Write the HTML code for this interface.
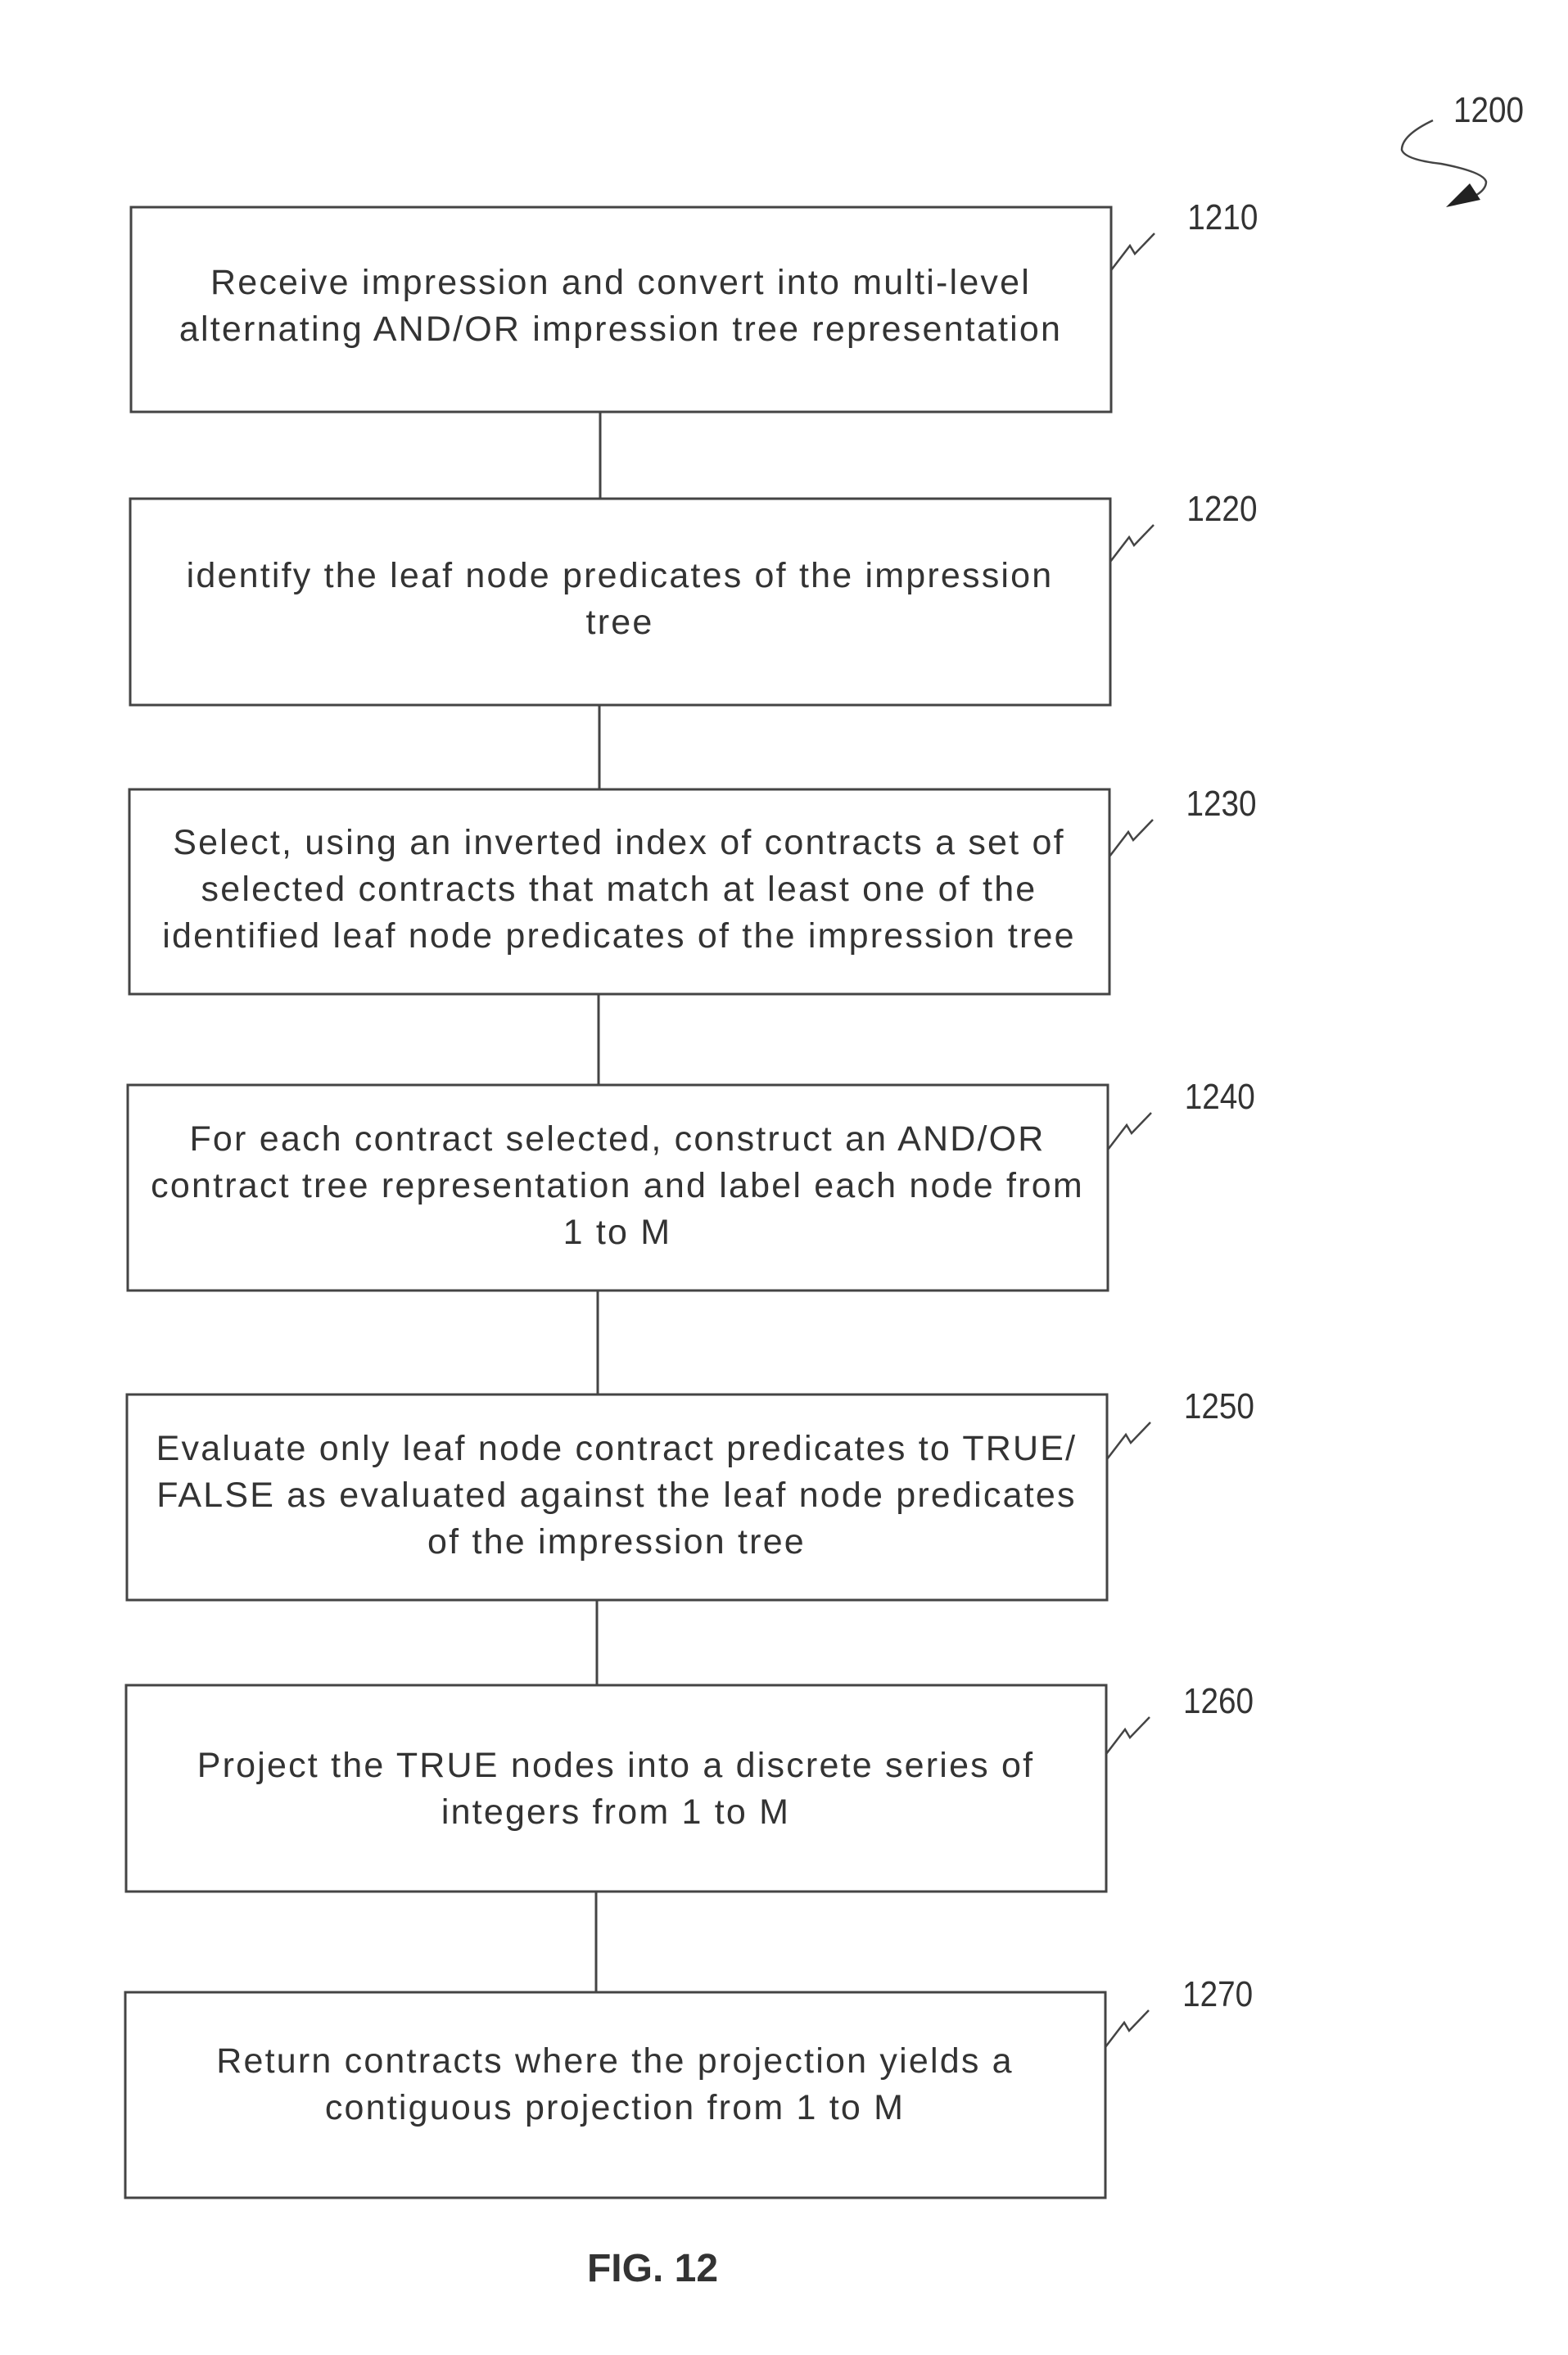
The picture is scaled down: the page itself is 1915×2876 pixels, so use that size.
<!DOCTYPE html>
<html><head><meta charset="utf-8"><style>
html,body{margin:0;padding:0;background:#fff;}
svg{display:block;}
text{font-family:"Liberation Sans",sans-serif;fill:#333;}
</style></head><body>
<svg width="1915" height="2876" viewBox="0 0 1915 2876" xmlns="http://www.w3.org/2000/svg">
<g fill="none" stroke="#444" stroke-width="3">
<rect x="160" y="253" width="1197" height="250"/>
<rect x="159" y="609" width="1197" height="252"/>
<rect x="158" y="964" width="1197" height="250"/>
<rect x="156" y="1325" width="1197" height="251"/>
<rect x="155" y="1703" width="1197" height="251"/>
<rect x="154" y="2058" width="1197" height="252"/>
<rect x="153" y="2433" width="1197" height="251"/>
<line x1="733" y1="503" x2="733" y2="609"/>
<line x1="732" y1="861" x2="732" y2="964"/>
<line x1="731" y1="1214" x2="731" y2="1325"/>
<line x1="730" y1="1576" x2="730" y2="1703"/>
<line x1="729" y1="1954" x2="729" y2="2058"/>
<line x1="728" y1="2310" x2="728" y2="2433"/>
<g stroke-width="2.5">
<path d="M1357 330 L1380 300 L1386 310 L1410 285"/>
<path d="M1356 686 L1379 656 L1385 666 L1409 641"/>
<path d="M1355 1046 L1378 1016 L1384 1026 L1408 1001"/>
<path d="M1353 1404 L1376 1374 L1382 1384 L1406 1359"/>
<path d="M1352 1782 L1375 1752 L1381 1762 L1405 1737"/>
<path d="M1351 2142 L1374 2112 L1380 2122 L1404 2097"/>
<path d="M1350 2500 L1373 2470 L1379 2480 L1403 2455"/>
<path d="M1750 147 Q1712 165 1712 183 Q1716 195 1760 200 Q1812 210 1815 222 Q1815 232 1800 240"/>
</g>
</g>
<polygon points="1766,253 1795,224 1808,244" fill="#222"/>
<g font-size="43" text-anchor="middle" letter-spacing="2.2">
<text x="758" y="359">Receive impression and convert into multi-level</text>
<text x="758" y="416">alternating AND/OR impression tree representation</text>
<text x="757" y="717">identify the leaf node predicates of the impression</text>
<text x="757" y="774">tree</text>
<text x="756" y="1043">Select, using an inverted index of contracts a set of</text>
<text x="756" y="1100">selected contracts that match at least one of the</text>
<text x="756" y="1157">identified leaf node predicates of the impression tree</text>
<text x="754" y="1405">For each contract selected, construct an AND/OR</text>
<text x="754" y="1462">contract tree representation and label each node from</text>
<text x="754" y="1519">1 to M</text>
<text x="753" y="1783">Evaluate only leaf node contract predicates to TRUE/</text>
<text x="753" y="1840">FALSE as evaluated against the leaf node predicates</text>
<text x="753" y="1897">of the impression tree</text>
<text x="752" y="2170">Project the TRUE nodes into a discrete series of</text>
<text x="752" y="2227">integers from 1 to M</text>
<text x="751" y="2531">Return contracts where the projection yields a</text>
<text x="751" y="2588">contiguous projection from 1 to M</text>
</g>
<g font-size="44" transform="scale(0.88,1)">
<text x="1648" y="280">1210</text>
<text x="1647" y="636">1220</text>
<text x="1646" y="996">1230</text>
<text x="1644" y="1354">1240</text>
<text x="1643" y="1732">1250</text>
<text x="1642" y="2092">1260</text>
<text x="1641" y="2450">1270</text>
<text x="2017" y="149">1200</text>
</g>
<text x="797" y="2786" font-size="48" font-weight="bold" text-anchor="middle">FIG. 12</text>
</svg>
</body></html>
